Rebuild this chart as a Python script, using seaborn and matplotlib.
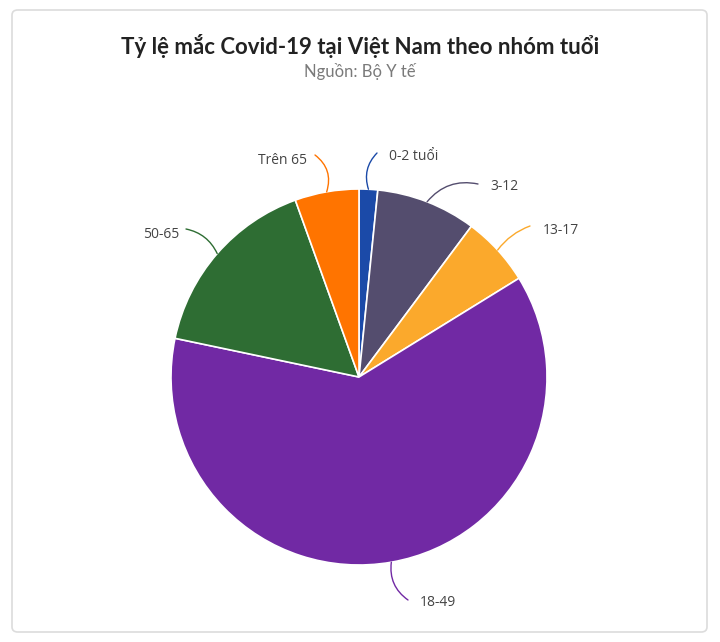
import matplotlib
matplotlib.use("Agg")
import matplotlib.pyplot as plt
import seaborn as sns
from matplotlib.patches import FancyBboxPatch
import numpy as np

# data (percent of cases)
groups = ['0-2 tuổi', '3-12', '13-17', '18-49', '50-65', 'Trên 65']
shares = [1.6, 8.6, 6.0, 62.1, 16.2, 5.5]
colors = ['#1b4aa8', '#544d6e', '#fba92c', '#7129a4', '#2e6d33', '#ff7400']

# label placement in pixels (x, y from top) and alignment
label_pos = [(389, 157), (490, 187), (543, 230), (420, 602), (179, 234), (307, 160)]
label_ha = ['left', 'left', 'left', 'left', 'right', 'right']
line_end = [(377, 153), (478, 184), (530, 226), (408, 600), (186, 229), (315, 155)]
line_rad = [0.3, 0.3, 0.15, -0.3, -0.25, -0.35]

sns.set_theme(style="white")
plt.rcParams['font.family'] = ['Open Sans', 'DejaVu Sans']

W, H = 720, 642
cx, cy, R = 359, 377, 188

fig = plt.figure(figsize=(W / 100, H / 100), dpi=100)
fig.patch.set_facecolor('white')

# card background
card = FancyBboxPatch((12 / W, 1 - 632 / H), (707 - 12) / W, (632 - 10) / H,
                      boxstyle="round,pad=0,rounding_size=0.008",
                      transform=fig.transFigure, facecolor='white',
                      edgecolor='#dcdcdc', linewidth=1.2, zorder=-5)
fig.patches.append(card)

ax = fig.add_axes([0, 0, 1, 1])
ax.patch.set_alpha(0)

wedges, _ = ax.pie(shares, colors=colors, radius=R, center=(0, 0),
                   startangle=90, counterclock=False,
                   wedgeprops=dict(edgecolor='white', linewidth=1.2))
ax.set_xlim(-cx, W - cx)
ax.set_ylim(-(H - cy), cy)
ax.set_aspect('equal')
ax.axis('off')

for w, name, c, lp, ha, le, rad in zip(wedges, groups, colors, label_pos,
                                       label_ha, line_end, line_rad):
    mid = np.deg2rad((w.theta1 + w.theta2) / 2)
    sx, sy = R * np.cos(mid), R * np.sin(mid)
    ex, ey = le[0] - cx, cy - le[1]
    ax.annotate('', xy=(sx, sy), xytext=(ex, ey),
                arrowprops=dict(arrowstyle='-', color=c, lw=1.0,
                                connectionstyle=f'arc3,rad={rad}',
                                shrinkA=0, shrinkB=0))
    ax.text(lp[0] - cx, cy - lp[1], name, ha=ha, va='center',
            fontsize=10, color='#444444')

fig.text(0.5, 1 - 46 / H, 'Tỷ lệ mắc Covid-19 tại Việt Nam theo nhóm tuổi',
         ha='center', va='center', fontsize=16, fontweight='bold',
         color='#222222', family=['Lato', 'DejaVu Sans'])
fig.text(0.5, 1 - 72 / H, 'Nguồn: Bộ Y tế', ha='center', va='center',
         fontsize=12, color='#7a7a7a', family=['Lato', 'DejaVu Sans'])

fig.savefig('out.png', dpi=100, facecolor='white')
